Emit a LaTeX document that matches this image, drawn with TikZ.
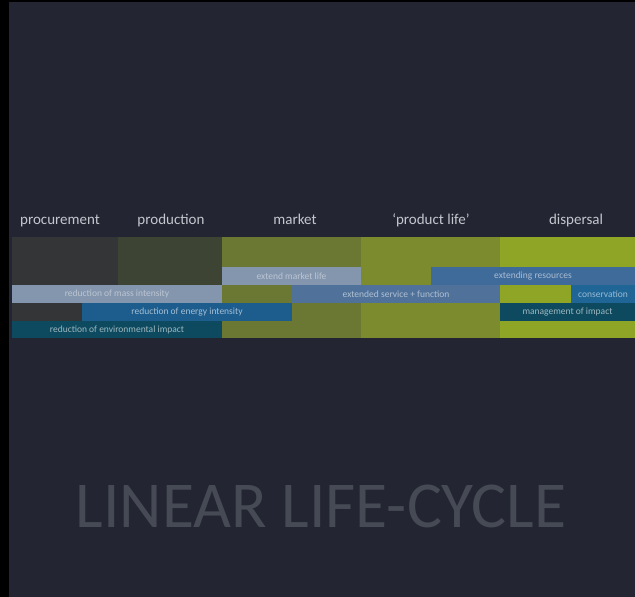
\documentclass[tikz,border=0pt]{standalone}
\usepackage{fontspec}
\setmainfont{Carlito}
\definecolor{frame}{HTML}{000000}
\definecolor{bg}{HTML}{232632}
\definecolor{procC}{HTML}{333536}
\definecolor{prodC}{HTML}{3E4434}
\definecolor{markC}{HTML}{6B7833}
\definecolor{lifeC}{HTML}{7B8B2E}
\definecolor{dispC}{HTML}{8FA526}
\definecolor{paleBlue}{HTML}{8496AE}
\definecolor{midBlue}{HTML}{50729A}
\definecolor{steelBlue}{HTML}{3F6B9A}
\definecolor{deepBlue}{HTML}{1D5D8E}
\definecolor{consBlue}{HTML}{1F6697}
\definecolor{teal}{HTML}{0D4A5F}
\definecolor{headText}{HTML}{C4C7CD}
\definecolor{titleText}{HTML}{464A55}
\tikzset{
  column/.style={rectangle, inner sep=0pt, outer sep=0pt, anchor=north west},
  strip/.style={rectangle, inner sep=0pt, outer sep=0pt, anchor=north west,
    font=\fontsize{9.5}{10}\selectfont},
  head/.style={anchor=base, text=headText, font=\fontsize{15}{16}\selectfont},
}
% bar: name, left, top, right, bottom, fill, text colour, label
\newcommand{\lcbar}[8]{%
  \node[strip, fill=#6, text=#7, minimum width={(#4-#2)*1pt}, minimum height={(#5-#3)*1pt}]
    (#1) at (#2,#3) {#8};}
\begin{document}
\begin{tikzpicture}[x=1pt,y=-1pt]
  % page and dark panel
  \fill[frame] (0,0) rectangle (635,597);
  \fill[bg] (9,2) rectangle (635,597);
  \useasboundingbox (0,0) rectangle (635,597);

  % life-cycle stage columns
  \lcbar{procurement}{12}{237}{118}{338}{procC}{white}{}
  \lcbar{production}{118}{237}{222}{338}{prodC}{white}{}
  \lcbar{market}{222}{237}{361}{338}{markC}{white}{}
  \lcbar{productlife}{361}{237}{500}{338}{lifeC}{white}{}
  \lcbar{dispersal}{500}{237}{635}{338}{dispC}{white}{}

  % stage headings
  \node[head] (hProc) at (60,224) {procurement};
  \node[head] (hProd) at (171,224) {production};
  \node[head] (hMark) at (295,224) {market};
  \node[head] (hLife) at (431,224) {‘product life’};
  \node[head] (hDisp) at (576,224) {dispersal};

  % strategy strips
  \lcbar{marketLife}{222}{267}{361}{285}{paleBlue}{paleBlue!55!white}{extend market life}
  \lcbar{resources}{431}{267}{635}{285}{steelBlue}{steelBlue!45!white}{extending resources}
  \lcbar{mass}{12}{285}{222}{303}{paleBlue}{paleBlue!55!white}{reduction of mass intensity}
  \lcbar{service}{292}{285}{500}{303}{midBlue}{midBlue!45!white}{extended service + function}
  \lcbar{conservation}{571}{285}{635}{303}{consBlue}{consBlue!45!white}{conservation}
  \lcbar{energy}{82}{303}{292}{321}{deepBlue}{deepBlue!40!white}{reduction of energy intensity}
  \lcbar{impact}{500}{303}{635}{321}{teal}{teal!40!white}{management of impact}
  \lcbar{environment}{12}{321}{222}{338}{teal}{teal!40!white}{reduction of environmental impact}

  % title
  \node[anchor=base, text=titleText, font=\fontsize{65.5}{70}\selectfont] (title) at (321,527) {LINEAR LIFE-CYCLE};
\end{tikzpicture}
\end{document}
